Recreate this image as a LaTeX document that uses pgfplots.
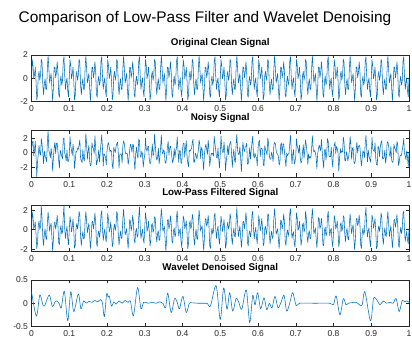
\documentclass[border=0pt]{standalone}
\usepackage{pgfplots}
\pgfplotsset{compat=1.18}
\usepackage{pgfplotstable}
\usepackage{fontspec}
\setmainfont{Liberation Sans}
\definecolor{mblue}{RGB}{0,114,189}
\definecolor{maxis}{RGB}{38,38,38}

\pgfplotstableread[row sep=\\]{
y\\
0\\ 1.59\\ 1.08\\ -0.03\\ 0.34\\ 0.95\\ -0.22\\ -1.86\\ -1.43\\ 0.26\\ 0.59\\ -0.18\\ 0.27\\ 1.64\\ 1.36\\ -0.59\\ -1.43\\ -0.47\\ -0.05\\ -0.96\\ -0.95\\ 0.84\\ 1.93\\ 0.83\\ -0.41\\ 0\\ 0.41\\ -0.83\\ -1.93\\ -0.84\\ 0.95\\ 0.96\\ 0.05\\ 0.47\\ 1.43\\ 0.59\\ -1.36\\ -1.64\\ -0.27\\ 0.18\\ -0.59\\ -0.26\\ 1.43\\ 1.86\\ 0.22\\ -0.95\\ -0.34\\ 0.03\\ -1.08\\ -1.59\\
0\\ 1.59\\ 1.08\\ -0.03\\ 0.34\\ 0.95\\ -0.22\\ -1.86\\ -1.43\\ 0.26\\ 0.59\\ -0.18\\ 0.27\\ 1.64\\ 1.36\\ -0.59\\ -1.43\\ -0.47\\ -0.05\\ -0.96\\ -0.95\\ 0.84\\ 1.93\\ 0.83\\ -0.41\\ 0\\ 0.41\\ -0.83\\ -1.93\\ -0.84\\ 0.95\\ 0.96\\ 0.05\\ 0.47\\ 1.43\\ 0.59\\ -1.36\\ -1.64\\ -0.27\\ 0.18\\ -0.59\\ -0.26\\ 1.43\\ 1.86\\ 0.22\\ -0.95\\ -0.34\\ 0.03\\ -1.08\\ -1.59\\
0\\ 1.59\\ 1.08\\ -0.03\\ 0.34\\ 0.95\\ -0.22\\ -1.86\\ -1.43\\ 0.26\\ 0.59\\ -0.18\\ 0.27\\ 1.64\\ 1.36\\ -0.59\\ -1.43\\ -0.47\\ -0.05\\ -0.96\\ -0.95\\ 0.84\\ 1.93\\ 0.83\\ -0.41\\ 0\\ 0.41\\ -0.83\\ -1.93\\ -0.84\\ 0.95\\ 0.96\\ 0.05\\ 0.47\\ 1.43\\ 0.59\\ -1.36\\ -1.64\\ -0.27\\ 0.18\\ -0.59\\ -0.26\\ 1.43\\ 1.86\\ 0.22\\ -0.95\\ -0.34\\ 0.03\\ -1.08\\ -1.59\\
0\\ 1.59\\ 1.08\\ -0.03\\ 0.34\\ 0.95\\ -0.22\\ -1.86\\ -1.43\\ 0.26\\ 0.59\\ -0.18\\ 0.27\\ 1.64\\ 1.36\\ -0.59\\ -1.43\\ -0.47\\ -0.05\\ -0.96\\ -0.95\\ 0.84\\ 1.93\\ 0.83\\ -0.41\\ 0\\ 0.41\\ -0.83\\ -1.93\\ -0.84\\ 0.95\\ 0.96\\ 0.05\\ 0.47\\ 1.43\\ 0.59\\ -1.36\\ -1.64\\ -0.27\\ 0.18\\ -0.59\\ -0.26\\ 1.43\\ 1.86\\ 0.22\\ -0.95\\ -0.34\\ 0.03\\ -1.08\\ -1.59\\
0\\ 1.59\\ 1.08\\ -0.03\\ 0.34\\ 0.95\\ -0.22\\ -1.86\\ -1.43\\ 0.26\\ 0.59\\ -0.18\\ 0.27\\ 1.64\\ 1.36\\ -0.59\\ -1.43\\ -0.47\\ -0.05\\ -0.96\\ -0.95\\ 0.84\\ 1.93\\ 0.83\\ -0.41\\ 0\\ 0.41\\ -0.83\\ -1.93\\ -0.84\\ 0.95\\ 0.96\\ 0.05\\ 0.47\\ 1.43\\ 0.59\\ -1.36\\ -1.64\\ -0.27\\ 0.18\\ -0.59\\ -0.26\\ 1.43\\ 1.86\\ 0.22\\ -0.95\\ -0.34\\ 0.03\\ -1.08\\ -1.59\\
0\\ 1.59\\ 1.08\\ -0.03\\ 0.34\\ 0.95\\ -0.22\\ -1.86\\ -1.43\\ 0.26\\ 0.59\\ -0.18\\ 0.27\\ 1.64\\ 1.36\\ -0.59\\ -1.43\\ -0.47\\ -0.05\\ -0.96\\ -0.95\\ 0.84\\ 1.93\\ 0.83\\ -0.41\\ 0\\ 0.41\\ -0.83\\ -1.93\\ -0.84\\ 0.95\\ 0.96\\ 0.05\\ 0.47\\ 1.43\\ 0.59\\ -1.36\\ -1.64\\ -0.27\\ 0.18\\ -0.59\\ -0.26\\ 1.43\\ 1.86\\ 0.22\\ -0.95\\ -0.34\\ 0.03\\ -1.08\\ -1.59\\
0\\ 1.59\\ 1.08\\ -0.03\\ 0.34\\ 0.95\\ -0.22\\ -1.86\\ -1.43\\ 0.26\\ 0.59\\ -0.18\\ 0.27\\ 1.64\\ 1.36\\ -0.59\\ -1.43\\ -0.47\\ -0.05\\ -0.96\\ -0.95\\ 0.84\\ 1.93\\ 0.83\\ -0.41\\ 0\\ 0.41\\ -0.83\\ -1.93\\ -0.84\\ 0.95\\ 0.96\\ 0.05\\ 0.47\\ 1.43\\ 0.59\\ -1.36\\ -1.64\\ -0.27\\ 0.18\\ -0.59\\ -0.26\\ 1.43\\ 1.86\\ 0.22\\ -0.95\\ -0.34\\ 0.03\\ -1.08\\ -1.59\\
0\\ 1.59\\ 1.08\\ -0.03\\ 0.34\\ 0.95\\ -0.22\\ -1.86\\ -1.43\\ 0.26\\ 0.59\\ -0.18\\ 0.27\\ 1.64\\ 1.36\\ -0.59\\ -1.43\\ -0.47\\ -0.05\\ -0.96\\ -0.95\\ 0.84\\ 1.93\\ 0.83\\ -0.41\\ 0\\ 0.41\\ -0.83\\ -1.93\\ -0.84\\ 0.95\\ 0.96\\ 0.05\\ 0.47\\ 1.43\\ 0.59\\ -1.36\\ -1.64\\ -0.27\\ 0.18\\ -0.59\\ -0.26\\ 1.43\\ 1.86\\ 0.22\\ -0.95\\ -0.34\\ 0.03\\ -1.08\\ -1.59\\
0\\ 1.59\\ 1.08\\ -0.03\\ 0.34\\ 0.95\\ -0.22\\ -1.86\\ -1.43\\ 0.26\\ 0.59\\ -0.18\\ 0.27\\ 1.64\\ 1.36\\ -0.59\\ -1.43\\ -0.47\\ -0.05\\ -0.96\\ -0.95\\ 0.84\\ 1.93\\ 0.83\\ -0.41\\ 0\\ 0.41\\ -0.83\\ -1.93\\ -0.84\\ 0.95\\ 0.96\\ 0.05\\ 0.47\\ 1.43\\ 0.59\\ -1.36\\ -1.64\\ -0.27\\ 0.18\\ -0.59\\ -0.26\\ 1.43\\ 1.86\\ 0.22\\ -0.95\\ -0.34\\ 0.03\\ -1.08\\ -1.59\\
0\\ 1.59\\ 1.08\\ -0.03\\ 0.34\\ 0.95\\ -0.22\\ -1.86\\ -1.43\\ 0.26\\ 0.59\\ -0.18\\ 0.27\\ 1.64\\ 1.36\\ -0.59\\ -1.43\\ -0.47\\ -0.05\\ -0.96\\ -0.95\\ 0.84\\ 1.93\\ 0.83\\ -0.41\\ 0\\ 0.41\\ -0.83\\ -1.93\\ -0.84\\ 0.95\\ 0.96\\ 0.05\\ 0.47\\ 1.43\\ 0.59\\ -1.36\\ -1.64\\ -0.27\\ 0.18\\ -0.59\\ -0.26\\ 1.43\\ 1.86\\ 0.22\\ -0.95\\ -0.34\\ 0.03\\ -1.08\\ -1.59\\
0\\
}\clean

\pgfplotstableread[row sep=\\]{
y\\
0.30\\ 1.39\\ 1.58\\ -0.43\\ 0.44\\ 1.55\\ -0.52\\ -3.30\\ -1.23\\ -0.24\\ 0.99\\ -0.08\\ -0.33\\ 1.94\\ 1.16\\ -0.09\\ -1.53\\ 0.23\\ -0.45\\ -0.76\\ -1.25\\ 1.44\\ 3.00\\ 0.33\\ -0.11\\ -0.70\\ 0.61\\ -0.43\\ -2.53\\ -0.74\\ 0.65\\ 1.46\\ -0.15\\ 1.27\\ 1.33\\ 0.19\\ -1.06\\ -2.14\\ 0.33\\ -0.02\\ -0.49\\ -0.86\\ 1.83\\ 2.06\\ -0.08\\ -0.45\\ -1.14\\ 0.33\\ -1.18\\ -1.19\\
-0.40\\ 2.19\\ 0.88\\ 0.27\\ -0.36\\ 1.15\\ 0.28\\ -2.16\\ -1.03\\ 0.16\\ 0.09\\ 0.62\\ 0.47\\ 1.04\\ 1.76\\ -0.79\\ -1.13\\ -1.37\\ 0.45\\ -0.86\\ -1.15\\ 0.44\\ 2.63\\ 1.13\\ -0.91\\ 0.20\\ 1.01\\ -1.13\\ -1.83\\ -1.64\\ 1.35\\ 0.76\\ 0.55\\ -0.13\\ 2.33\\ 0.69\\ -1.66\\ -1.24\\ -0.77\\ 0.38\\ -1.29\\ 0.04\\ 1.23\\ 2.46\\ 0.62\\ -1.85\\ -0.14\\ -0.37\\ -0.58\\ -1.69\\
0.20\\ 1.09\\ 1.38\\ 0.67\\ 0.14\\ 0.35\\ 0.18\\ -1.76\\ -2.23\\ 0.76\\ 0.29\\ 0.02\\ 0.87\\ 1.24\\ 1.46\\ -0.09\\ -2.13\\ -0.17\\ -0.25\\ -0.16\\ -1.45\\ 0.94\\ 1.63\\ 1.23\\ 0.19\\ -0.20\\ -0.09\\ -0.13\\ -1.63\\ -0.94\\ 0.35\\ 1.16\\ 0.85\\ 0.07\\ 1.13\\ 1.09\\ -1.16\\ -2.34\\ -0.17\\ 0.78\\ -0.29\\ -0.76\\ 1.83\\ 1.66\\ -0.38\\ -0.65\\ 0.16\\ -0.17\\ -1.98\\ -0.99\\
-0.30\\ 1.99\\ 0.48\\ 0.17\\ 0.84\\ 0.85\\ -0.92\\ -1.56\\ -1.23\\ -0.14\\ 1.19\\ -0.38\\ -0.23\\ 2.54\\ 1.06\\ -0.49\\ -1.03\\ -0.67\\ 0.65\\ -1.56\\ -0.65\\ 0.74\\ 2.43\\ 0.13\\ -0.21\\ 0.40\\ 0.11\\ -1.43\\ -1.43\\ -0.54\\ 0.75\\ 1.56\\ -0.35\\ 0.57\\ 0.93\\ 0.29\\ -0.66\\ -1.44\\ -0.87\\ 0.58\\ -0.69\\ 0.24\\ 0.63\\ 2.16\\ 0.32\\ -1.35\\ 0.26\\ 0.23\\ -1.38\\ -1.49\\
0.50\\ 1.29\\ 1.28\\ -0.63\\ 0.64\\ 1.65\\ -0.42\\ -1.46\\ -1.93\\ 0.36\\ 0.19\\ 0.42\\ 0.57\\ 1.44\\ 1.86\\ -1.39\\ -1.23\\ -0.07\\ -0.35\\ -0.86\\ -0.35\\ 0.34\\ 1.73\\ 1.13\\ -0.81\\ 0.70\\ 0.51\\ -1.03\\ -2.43\\ -0.24\\ 0.65\\ 1.16\\ 0.45\\ -0.23\\ 1.73\\ 0.49\\ -1.86\\ -1.04\\ -0.07\\ -0.22\\ -0.09\\ -0.46\\ 2.23\\ 1.26\\ 0.32\\ -0.65\\ -0.74\\ 0.63\\ -0.88\\ -2.09\\
-0.20\\ 2.29\\ 0.68\\ 0.07\\ 0.04\\ 1.45\\ -0.02\\ -2.46\\ -1.13\\ -0.24\\ 0.99\\ -0.28\\ 0.87\\ 1.34\\ 1.56\\ -0.19\\ -2.03\\ -0.37\\ 0.45\\ -1.16\\ -1.35\\ 1.14\\ 2.53\\ 0.33\\ -0.21\\ -0.30\\ 0.81\\ -0.73\\ -2.63\\ -0.64\\ 1.45\\ 0.56\\ 0.15\\ 0.77\\ 0.83\\ 1.29\\ -1.56\\ -1.54\\ -0.67\\ 0.68\\ -0.89\\ 0.34\\ 1.33\\ 2.26\\ -0.28\\ -0.75\\ -0.04\\ -0.57\\ -0.68\\ -1.79\\
0.40\\ 1.49\\ 1.68\\ -0.53\\ 0.54\\ 0.65\\ 0.28\\ -1.66\\ -1.83\\ 0.96\\ 0.39\\ 0.12\\ -0.33\\ 2.04\\ 1.26\\ -0.39\\ -0.93\\ -0.87\\ 0.05\\ -0.36\\ -1.25\\ 1.04\\ 1.43\\ 1.23\\ 0.29\\ -0.10\\ -0.19\\ -0.53\\ -1.73\\ -1.34\\ 1.05\\ 1.36\\ -0.25\\ 1.07\\ 1.23\\ 0.19\\ -0.86\\ -1.94\\ -0.07\\ -0.42\\ -0.19\\ -0.16\\ 1.13\\ 2.36\\ 0.42\\ -1.55\\ -0.24\\ 0.43\\ -1.58\\ -1.29\\
-0.50\\ 1.89\\ 0.88\\ 0.57\\ -0.06\\ 1.05\\ -0.72\\ -1.46\\ -1.13\\ 0.06\\ 1.09\\ -0.78\\ 0.47\\ 1.74\\ 0.96\\ 0.01\\ -1.63\\ -0.17\\ -0.75\\ -0.56\\ -0.75\\ 0.54\\ 2.33\\ 0.63\\ 0.09\\ 0.30\\ 0.01\\ -0.63\\ -2.23\\ -0.14\\ 0.45\\ 1.06\\ 0.65\\ 0.27\\ 1.83\\ 0.29\\ -1.16\\ -2.14\\ 0.33\\ 0.48\\ -0.99\\ -0.06\\ 1.93\\ 1.56\\ -0.38\\ -0.55\\ -0.54\\ 0.73\\ -0.98\\ -1.99\\
0.30\\ 0.99\\ 1.48\\ -0.13\\ 0.84\\ 0.55\\ -0.02\\ -2.56\\ -0.93\\ 0.56\\ -0.01\\ 0.22\\ 0.07\\ 2.14\\ 1.46\\ -1.09\\ -1.13\\ 0.13\\ -0.35\\ -1.16\\ -0.55\\ 0.24\\ 2.23\\ 1.03\\ -0.91\\ 0.60\\ 0.71\\ -1.23\\ -1.53\\ -1.04\\ 0.35\\ 1.46\\ -0.05\\ 0.77\\ 1.03\\ 0.79\\ -0.76\\ -1.84\\ -0.77\\ 0.28\\ 0.01\\ -0.66\\ 1.23\\ 2.36\\ 0.52\\ -1.25\\ 0.36\\ -0.47\\ -0.88\\ -1.29\\
-0.10\\ 2.09\\ 0.58\\ 0.27\\ 0.14\\ 1.35\\ -0.82\\ -1.66\\ -1.73\\ 0.86\\ 0.69\\ -0.58\\ 0.77\\ 1.44\\ 1.66\\ -0.89\\ -0.83\\ -0.57\\ 0.35\\ -1.46\\ -0.65\\ 1.34\\ 1.53\\ 0.93\\ -0.21\\ -0.60\\ 0.91\\ -1.03\\ -1.33\\ -1.24\\ 1.15\\ 0.66\\ 0.45\\ -0.03\\ 1.53\\ 1.19\\ -1.76\\ -1.34\\ -0.47\\ -0.32\\ -0.39\\ 0.34\\ 1.03\\ 1.96\\ -0.08\\ -0.45\\ -0.94\\ 0.23\\ -0.68\\ -1.89\\
0.10\\
}\noisy

\pgfplotstableread[row sep=\\]{
y\\
0.10\\ 1.79\\ 1.33\\ 0.12\\ 0.34\\ 0.80\\ -0.42\\ -1.96\\ -1.38\\ 0.46\\ 0.89\\ 0.02\\ 0.32\\ 2.52\\ 1.11\\ -0.89\\ -1.63\\ -0.47\\ 0.10\\ -0.86\\ -1.00\\ 0.69\\ 1.83\\ 0.88\\ -0.16\\ 0.35\\ 0.66\\ -0.73\\ -2.20\\ -1.04\\ 0.65\\ 0.81\\ 0.05\\ 0.57\\ 1.48\\ 0.54\\ -1.36\\ -1.54\\ -0.07\\ 0.43\\ -0.44\\ -0.26\\ 1.28\\ 2.48\\ 0.12\\ -0.90\\ -0.14\\ 0.33\\ -0.88\\ -1.54\\
-0.10\\ 1.34\\ 0.78\\ -0.23\\ 0.34\\ 1.10\\ -0.12\\ -1.91\\ -1.58\\ 0.16\\ 0.64\\ 0.07\\ 0.62\\ 1.89\\ 1.46\\ -0.64\\ -1.63\\ -0.77\\ -0.20\\ -0.96\\ -0.85\\ 0.89\\ 1.88\\ 0.83\\ -0.31\\ 0.20\\ 0.66\\ -0.68\\ -1.93\\ -0.99\\ 0.75\\ 0.86\\ 0.10\\ 0.67\\ 1.73\\ 0.79\\ -1.31\\ -1.74\\ -0.52\\ -0.12\\ -0.79\\ -0.26\\ 1.58\\ 1.96\\ 0.17\\ -1.10\\ -0.44\\ 0.08\\ -0.83\\ -1.24\\
0.25\\ 1.69\\ 1.03\\ -0.23\\ 0.04\\ 0.80\\ -0.22\\ -1.76\\ -1.38\\ 0.21\\ 0.59\\ -0.08\\ 0.47\\ 1.89\\ 1.51\\ -0.59\\ -1.58\\ -0.67\\ -0.15\\ -0.91\\ -0.75\\ 1.14\\ 2.13\\ 0.88\\ -0.51\\ -0.25\\ 0.11\\ -1.03\\ -1.93\\ -0.69\\ 1.05\\ 0.91\\ -0.10\\ 0.37\\ 1.48\\ 0.84\\ -1.01\\ -1.39\\ -0.17\\ 0.13\\ -0.79\\ -0.56\\ 1.28\\ 2.35\\ 0.32\\ -0.90\\ -0.39\\ 0.03\\ -0.98\\ -1.39\\
0.25\\ 1.74\\ 1.08\\ -0.18\\ 0.14\\ 0.85\\ -0.17\\ -1.66\\ -1.13\\ 0.46\\ 0.64\\ -0.28\\ 0.02\\ 1.34\\ 1.16\\ -0.59\\ -1.28\\ -0.37\\ -0.10\\ -1.11\\ -1.05\\ 0.89\\ 2.18\\ 1.18\\ -0.16\\ 0.10\\ 0.36\\ -1.03\\ -2.20\\ -0.99\\ 0.95\\ 1.06\\ 0.10\\ 0.42\\ 1.43\\ 0.69\\ -1.16\\ -1.39\\ -0.12\\ 0.18\\ -0.74\\ -0.46\\ 1.33\\ 1.91\\ 0.42\\ -0.65\\ -0.14\\ 0.08\\ -1.18\\ -1.84\\
-0.30\\ 1.39\\ 1.08\\ 0.12\\ 0.44\\ 0.90\\ -0.37\\ -1.96\\ -1.38\\ 0.51\\ 0.94\\ 0.07\\ 0.37\\ 1.59\\ 1.16\\ -0.89\\ -1.58\\ -0.47\\ 0.05\\ -0.91\\ -1.00\\ 0.84\\ 2.03\\ 1.03\\ -0.16\\ 0.15\\ 0.41\\ -0.98\\ -2.13\\ -0.94\\ 1.00\\ 1.16\\ 0.35\\ 0.67\\ 1.48\\ 0.49\\ -1.61\\ -1.94\\ -0.47\\ 0.18\\ -0.44\\ -0.16\\ 1.38\\ 1.71\\ 0.12\\ -0.90\\ -0.09\\ 0.38\\ -0.83\\ -1.49\\
-0.05\\ 1.39\\ 0.78\\ -0.18\\ 0.34\\ 1.05\\ -0.17\\ -1.91\\ -1.43\\ 0.36\\ 0.79\\ 0.07\\ 0.42\\ 1.64\\ 1.21\\ -0.79\\ -1.53\\ -0.42\\ 0.15\\ -0.66\\ -0.75\\ 0.89\\ 2.30\\ 0.58\\ -0.71\\ -0.20\\ 0.41\\ -0.68\\ -1.83\\ -0.89\\ 0.80\\ 0.86\\ 0.10\\ 0.72\\ 1.78\\ 0.84\\ -1.26\\ -1.69\\ -0.47\\ -0.12\\ -0.74\\ -0.26\\ 1.53\\ 1.91\\ 0.17\\ -0.95\\ -0.24\\ 0.23\\ -0.83\\ -1.44\\
0.00\\ 1.44\\ 0.88\\ -0.13\\ 0.39\\ 1.15\\ 0.08\\ -1.66\\ -1.38\\ 0.16\\ 0.34\\ -0.48\\ 0.07\\ 1.64\\ 1.51\\ -0.49\\ -1.48\\ -0.62\\ -0.15\\ -0.91\\ -0.70\\ 1.19\\ 2.18\\ 0.93\\ -0.46\\ -0.20\\ 0.11\\ -0.98\\ -1.93\\ -0.74\\ 1.00\\ 0.91\\ 0.05\\ 0.57\\ 1.63\\ 0.84\\ -1.21\\ -1.64\\ -0.42\\ -0.02\\ -0.69\\ -0.21\\ 1.63\\ 2.16\\ 0.42\\ -0.90\\ -0.44\\ -0.22\\ -1.38\\ -1.79\\
0.00\\ 1.74\\ 1.18\\ -0.08\\ 0.19\\ 0.85\\ -0.17\\ -1.61\\ -1.08\\ 0.51\\ 0.69\\ -0.23\\ 0.07\\ 1.90\\ 1.21\\ -0.59\\ -1.33\\ -0.42\\ -0.10\\ -0.96\\ -0.85\\ 1.04\\ 2.18\\ 0.98\\ -0.41\\ -0.15\\ 0.21\\ -0.93\\ -1.88\\ -0.64\\ 1.25\\ 1.16\\ 0.10\\ 0.37\\ 1.18\\ 0.29\\ -1.56\\ -1.64\\ -0.12\\ 0.28\\ -0.64\\ -0.41\\ 1.33\\ 1.91\\ 0.47\\ -0.60\\ -0.09\\ 0.13\\ -1.13\\ -1.79\\
-0.30\\ 1.44\\ 1.08\\ 0.07\\ 0.39\\ 0.90\\ -0.22\\ -1.76\\ -1.23\\ 0.51\\ 0.74\\ -0.18\\ 0.12\\ 1.44\\ 1.26\\ -0.54\\ -1.23\\ -0.17\\ 0.15\\ -0.91\\ -1.05\\ 0.59\\ 1.63\\ 0.63\\ -0.41\\ 0.15\\ 0.51\\ -0.88\\ -2.08\\ -0.94\\ 1.00\\ 1.21\\ 0.40\\ 0.72\\ 1.53\\ 0.54\\ -1.56\\ -1.94\\ -0.42\\ 0.18\\ -0.49\\ -0.21\\ 1.38\\ 2.30\\ 0.32\\ -0.75\\ -0.09\\ 0.18\\ -1.08\\ -1.74\\
-0.20\\ 1.49\\ 1.13\\ 0.17\\ 0.64\\ 1.15\\ -0.17\\ -1.96\\ -1.68\\ -0.04\\ 0.39\\ -0.18\\ 0.42\\ 1.74\\ 1.31\\ -0.74\\ -1.53\\ -0.42\\ 0.20\\ -0.61\\ -0.70\\ 0.94\\ 1.88\\ 0.63\\ -0.71\\ -0.15\\ 0.41\\ -0.73\\ -1.88\\ -0.89\\ 0.95\\ 1.06\\ 0.25\\ 0.72\\ 1.58\\ 0.59\\ -1.51\\ -1.84\\ -0.37\\ 0.23\\ -0.39\\ 0.04\\ 1.63\\ 1.91\\ 0.12\\ -1.20\\ -0.64\\ -0.17\\ -1.08\\ -1.44\\
0.10\\
}\lowpass

\pgfplotsset{
  sub/.style={
    width=377.5pt, height=46.5pt, scale only axis, anchor=south west,
    xmin=0, xmax=1,
    xtick={0,0.1,0.2,0.3,0.4,0.5,0.6,0.7,0.8,0.9,1},
    xticklabels={0,0.1,0.2,0.3,0.4,0.5,0.6,0.7,0.8,0.9,1},
    tick align=inside, tick pos=both, major tick length=3.5pt,
    axis line style={maxis, line width=0.6pt},
    tick style={maxis, line width=0.5pt},
    tick label style={font=\fontsize{8.5}{10}\selectfont, text=maxis},
    xticklabel style={inner sep=0.5pt, yshift=-3.5pt},
    title style={at={(0.5,1)}, anchor=base, yshift=3.5pt, inner sep=0pt,
      font=\bfseries\fontsize{9.8}{11}\selectfont, text=black},
  },
  sig/.style={mblue, line width=0.55pt, line join=round, no markers},
}

\begin{document}
\begin{tikzpicture}
\fill[white] (0,0) rectangle (412pt,339pt);
\path[use as bounding box] (0,0) rectangle (412pt,339pt);
\node[anchor=base, font=\fontsize{15.4}{18}\selectfont, text=black] at (205pt,316.5pt) {Comparison of Low-Pass Filter and Wavelet Denoising};

\begin{axis}[sub, at={(31.5pt,237.5pt)}, ymin=-2, ymax=2, ytick={-2,0,2}, yticklabels={-2,0,2}, title={Original Clean Signal}]
\addplot[sig] table[x expr=\coordindex*0.002, y=y]{\clean};
\end{axis}

\begin{axis}[sub, at={(31.5pt,162pt)}, ymin=-3.35, ymax=3.05, ytick={-2,0,2}, yticklabels={-2,0,2}, title={Noisy Signal}]
\addplot[sig] table[x expr=\coordindex*0.002, y=y]{\noisy};
\end{axis}

\begin{axis}[sub, at={(31.5pt,87.5pt)}, ymin=-2.25, ymax=2.55, ytick={-2,0,2}, yticklabels={-2,0,2}, title={Low-Pass Filtered Signal}]
\addplot[sig] table[x expr=\coordindex*0.002, y=y]{\lowpass};
\end{axis}

\begin{axis}[sub, at={(31.5pt,12.5pt)}, ymin=-0.5, ymax=0.5, ytick={-0.5,0,0.5}, yticklabels={-0.5,0,0.5}, title={Wavelet Denoised Signal}]
\addplot[sig, smooth, tension=0.5] coordinates {
(0,0.25) (0.013,-0.28) (0.022,0.18) (0.030,-0.03) (0.035,-0.05) (0.047,0.18) (0.055,-0.07) (0.062,0.02) (0.068,0.05) (0.074,-0.02) (0.079,-0.10) (0.087,0.26) (0.096,-0.38) (0.104,0.25) (0.112,-0.18) (0.124,0.20) (0.131,-0.12) (0.138,0.05) (0.145,0.00) (0.152,0.04) (0.160,0.02) (0.168,0.06) (0.176,0.03) (0.183,0.08) (0.188,0.00) (0.193,-0.29) (0.199,0.20) (0.203,0.13) (0.206,0.16) (0.212,-0.06) (0.218,0.03) (0.224,-0.02) (0.232,0.05) (0.240,0.00) (0.248,0.06) (0.256,0.02) (0.262,0.05) (0.270,-0.27) (0.281,0.34) (0.290,-0.12) (0.297,0.02) (0.310,0.00) (0.320,0.02) (0.330,0.00) (0.340,0.03) (0.348,0.00) (0.355,-0.10) (0.361,0.22) (0.370,-0.20) (0.379,0.10) (0.386,0.02) (0.392,-0.12) (0.401,0.15) (0.410,-0.20) (0.418,0.00) (0.425,0.01) (0.440,0.00) (0.455,0.00) (0.465,0.00) (0.474,-0.06) (0.489,0.38) (0.500,-0.35) (0.509,0.33) (0.518,-0.13) (0.525,0.23) (0.533,-0.17) (0.542,0.10) (0.549,0.02) (0.557,-0.13) (0.569,0.29) (0.578,-0.42) (0.586,0.17) (0.592,-0.04) (0.599,0.23) (0.607,-0.12) (0.616,0.12) (0.623,-0.14) (0.630,0.00) (0.637,-0.10) (0.645,0.15) (0.653,-0.10) (0.661,0.02) (0.669,0.17) (0.676,-0.17) (0.684,0.00) (0.692,0.23) (0.701,-0.05) (0.710,0.00) (0.750,0.00) (0.790,0.00) (0.800,-0.03) (0.807,0.16) (0.817,-0.25) (0.826,0.10) (0.833,-0.03) (0.840,0.00) (0.860,0.02) (0.875,-0.05) (0.883,0.25) (0.898,-0.38) (0.906,0.10) (0.914,0.08) (0.923,-0.03) (0.932,0.05) (0.940,0.00) (0.950,0.02) (0.958,0.00) (0.966,0.10) (0.974,-0.18) (0.982,0.06) (0.988,0.03) (0.994,0.05) (1.000,0.02)
};
\end{axis}
\end{tikzpicture}
\end{document}
